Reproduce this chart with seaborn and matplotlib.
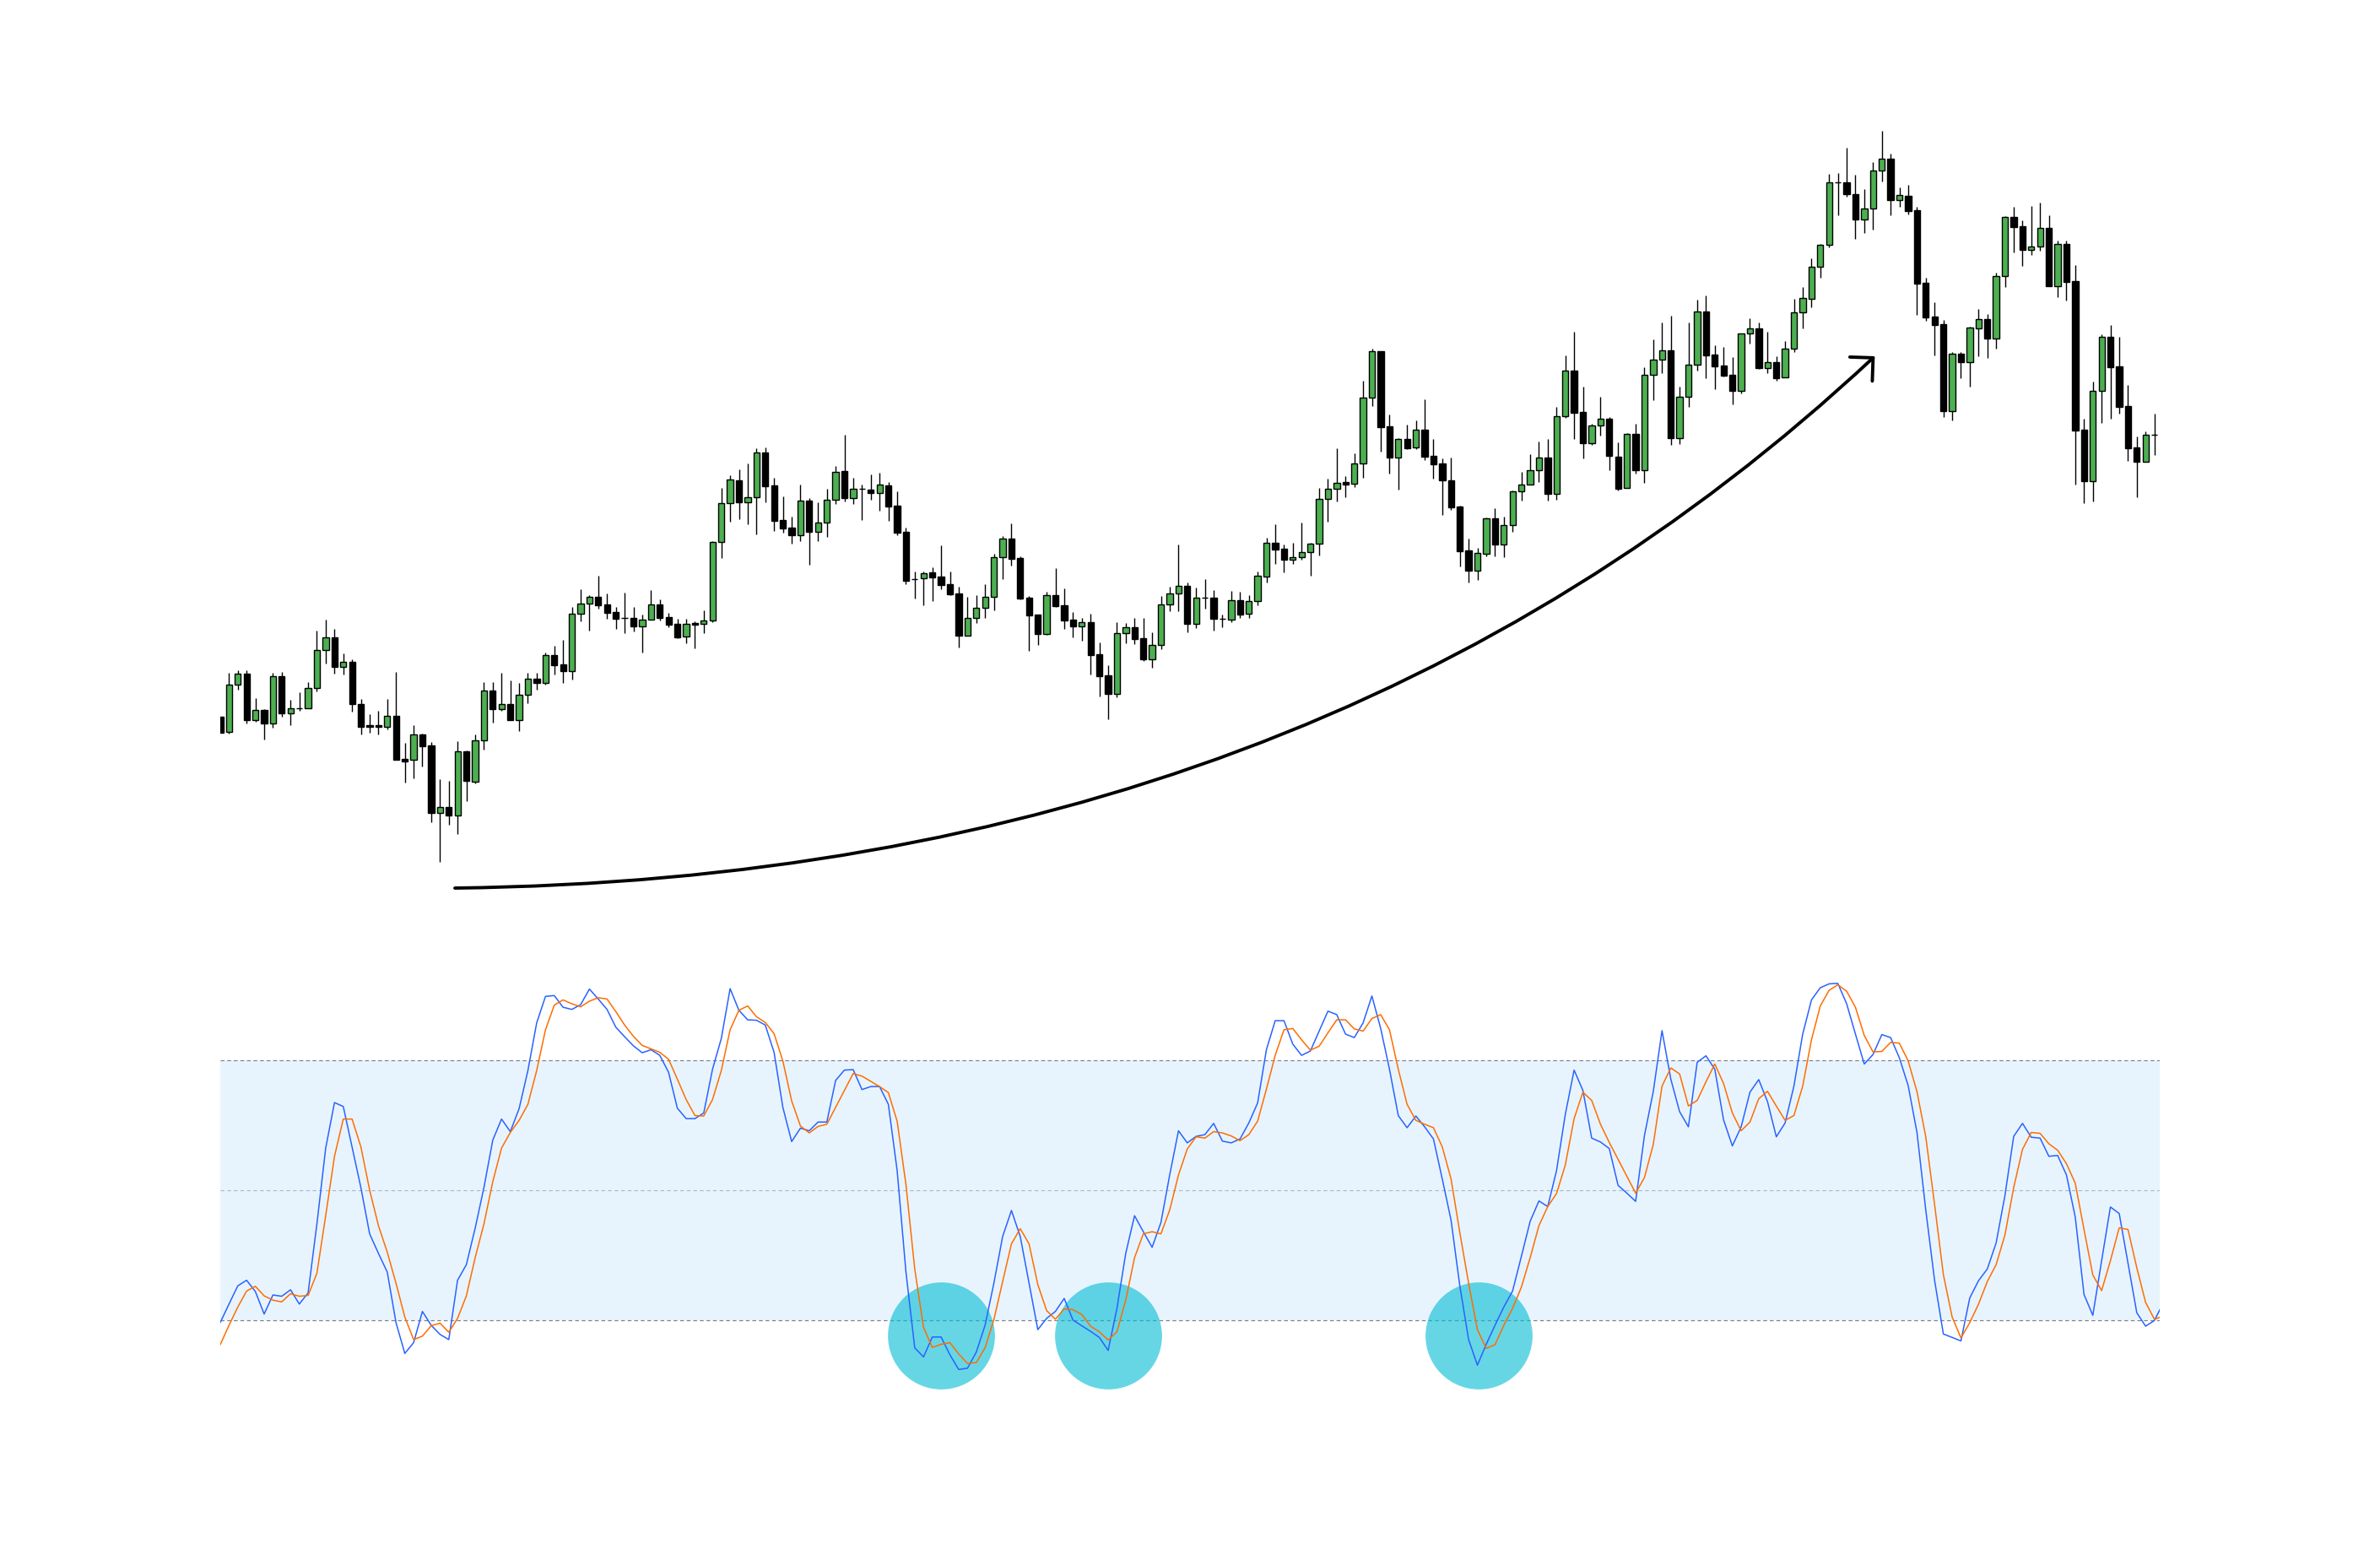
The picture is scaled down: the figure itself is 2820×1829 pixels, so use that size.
import numpy as np
import pandas as pd
import seaborn as sns
import matplotlib.pyplot as plt
from matplotlib.patches import FancyArrowPatch
from matplotlib.path import Path

# candle prices
opens = [251, 233, 289, 302, 247, 259, 243, 299, 255, 261,
         261, 285, 330, 345, 310, 316, 266, 241, 241, 239,
         252, 201, 200, 230, 217, 137, 144, 134, 210, 174,
         223, 282, 260, 266, 247, 277, 296, 291, 324, 313,
         305, 373, 385, 393, 384, 375, 368, 368, 358, 366,
         384, 369, 361, 346, 362, 361, 365, 458, 504, 531,
         505, 511, 564, 525, 484, 475, 466, 507, 470, 481,
         508, 542, 510, 521, 520, 516, 525, 501, 470, 414,
         415, 422, 417, 408, 397, 347, 368, 380, 393, 440,
         462, 439, 392, 372, 349, 395, 383, 366, 358, 363,
         325, 300, 278, 350, 357, 344, 319, 336, 384, 397,
         406, 361, 392, 392, 367, 366, 389, 373, 388, 417,
         457, 450, 437, 440, 446, 456, 509, 521, 529, 527,
         551, 629, 684, 595, 558, 580, 570, 591, 560, 551,
         531, 500, 448, 424, 444, 486, 455, 478, 518, 526,
         543, 558, 515, 607, 661, 612, 575, 596, 604, 559,
         522, 586, 543, 656, 674, 685, 581, 630, 668, 731,
         680, 667, 656, 637, 705, 711, 664, 671, 653, 687,
         730, 746, 784, 810, 884, 884, 870, 840, 853, 898,
         912, 863, 868, 851, 765, 725, 716, 613, 681, 671,
         711, 722, 699, 773, 843, 832, 804, 808, 830, 761,
         811, 767, 591, 530, 637, 701, 666, 619, 570, 553,
         585]
highs = [251, 303, 306, 306, 273, 260, 303, 304, 271, 280,
         292, 353, 366, 355, 326, 319, 272, 254, 258, 272,
         304, 220, 241, 231, 221, 177, 175, 222, 211, 230,
         292, 292, 303, 294, 291, 303, 303, 327, 335, 342,
         381, 402, 395, 418, 397, 381, 398, 381, 372, 401,
         390, 374, 367, 367, 364, 377, 459, 522, 537, 544,
         551, 569, 570, 534, 512, 488, 526, 510, 505, 521,
         548, 585, 534, 526, 538, 540, 529, 518, 475, 423,
         423, 428, 454, 423, 405, 393, 395, 408, 444, 465,
         480, 441, 394, 372, 399, 427, 403, 375, 368, 373,
         339, 312, 363, 362, 368, 368, 351, 394, 405, 455,
         410, 404, 414, 401, 372, 400, 399, 395, 423, 463,
         479, 455, 457, 481, 457, 522, 533, 569, 536, 563,
         649, 687, 684, 609, 581, 597, 602, 627, 580, 557,
         558, 501, 462, 451, 487, 498, 488, 519, 541, 562,
         577, 580, 618, 679, 707, 642, 598, 630, 606, 576,
         587, 598, 665, 698, 718, 726, 642, 718, 745, 750,
         691, 689, 677, 705, 723, 718, 707, 678, 696, 746,
         760, 794, 811, 894, 895, 925, 893, 876, 908, 945,
         918, 878, 881, 855, 771, 742, 721, 683, 683, 713,
         734, 728, 777, 844, 855, 839, 856, 860, 845, 815,
         815, 786, 604, 648, 704, 715, 701, 644, 583, 589,
         610]
lows = [232, 231, 283, 243, 245, 224, 238, 251, 241, 258,
        261, 281, 314, 302, 301, 257, 230, 232, 230, 236,
        200, 173, 178, 192, 126, 79, 123, 112, 151, 172,
        212, 244, 258, 247, 234, 267, 283, 289, 301, 291,
        295, 364, 353, 379, 367, 355, 350, 352, 327, 366,
        365, 357, 344, 338, 332, 350, 363, 439, 482, 485,
        479, 467, 505, 471, 469, 456, 459, 431, 459, 464,
        503, 506, 503, 484, 508, 495, 483, 466, 408, 391,
        383, 388, 402, 395, 333, 347, 362, 368, 377, 414,
        430, 390, 329, 336, 348, 381, 355, 345, 341, 301,
        275, 248, 274, 338, 337, 317, 309, 331, 376, 376,
        351, 356, 379, 353, 357, 363, 368, 368, 383, 410,
        432, 422, 432, 437, 418, 442, 482, 506, 511, 523,
        534, 619, 565, 539, 520, 568, 568, 555, 533, 490,
        496, 429, 410, 413, 441, 441, 440, 470, 507, 526,
        529, 507, 508, 605, 580, 557, 573, 584, 543, 519,
        522, 539, 528, 626, 658, 573, 574, 618, 661, 652,
        639, 654, 621, 634, 693, 663, 658, 649, 653, 683,
        711, 736, 771, 807, 845, 867, 817, 824, 828, 885,
        845, 855, 846, 727, 720, 679, 606, 602, 652, 642,
        678, 676, 687, 760, 801, 785, 798, 803, 761, 748,
        744, 526, 504, 506, 599, 604, 610, 554, 511, 553,
        561]
closes = [232, 289, 302, 247, 259, 243, 299, 255, 261, 261,
          285, 330, 345, 310, 316, 266, 239, 239, 239, 252,
          200, 198, 230, 216, 137, 144, 134, 210, 175, 223,
          282, 260, 266, 247, 277, 296, 291, 324, 312, 305,
          373, 385, 393, 383, 374, 367, 368, 358, 366, 384,
          368, 360, 345, 361, 360, 365, 458, 504, 532, 505,
          511, 564, 524, 483, 474, 466, 507, 470, 481, 508,
          541, 510, 521, 521, 516, 526, 500, 469, 412, 414,
          421, 416, 407, 396, 347, 368, 380, 393, 440, 462,
          438, 391, 371, 349, 395, 382, 365, 358, 363, 324,
          299, 278, 350, 357, 343, 319, 336, 384, 397, 406,
          361, 392, 392, 367, 367, 389, 372, 388, 418, 457,
          449, 437, 440, 446, 456, 509, 521, 528, 526, 551,
          629, 684, 594, 558, 580, 569, 591, 559, 550, 531,
          499, 447, 424, 445, 486, 455, 478, 518, 526, 543,
          558, 515, 607, 661, 611, 575, 596, 604, 560, 521,
          586, 543, 656, 674, 685, 581, 630, 668, 731, 679,
          666, 655, 637, 705, 711, 664, 671, 652, 687, 730,
          747, 784, 810, 884, 884, 870, 840, 853, 898, 912,
          863, 869, 850, 764, 724, 715, 613, 681, 671, 712,
          722, 699, 773, 843, 831, 804, 808, 830, 761, 811,
          766, 590, 530, 637, 701, 665, 618, 569, 553, 585,
          585]

# stochastic oscillator: fast line (blue) and slow line (orange)
stoch_k = [19.5, 23.8, 28, 29.3, 26.7, 21.5, 25.9, 25.6, 27.1, 23.8,
           26.4, 42.3, 59.8, 70.3, 69.4, 60.1, 50.7, 40, 35.5, 31.2,
           19.5, 12.4, 14.9, 22.1, 18.9, 16.8, 15.6, 29.3, 32.9, 41.3,
           50.7, 61.6, 66.5, 63.6, 68.9, 77.7, 88.7, 94.8, 95, 92.3,
           91.8, 92.9, 96.5, 94.2, 91.8, 87.7, 85.5, 83.4, 81.8, 82.5,
           81.2, 77.3, 69, 66.6, 66.6, 67.9, 78, 85.1, 96.6, 91.6,
           89.4, 89.3, 88.2, 81.9, 69.2, 61.3, 64.4, 63.8, 65.8, 65.8,
           75.4, 77.8, 77.9, 73.3, 74, 74, 69.9, 54.6, 31.2, 13.7,
           11.6, 16.2, 16.2, 12.1, 8.7, 9, 12.7, 18.9, 28.6, 39.4,
           45.4, 39.4, 28.6, 17.9, 20.5, 22.1, 25.1, 20.1, 18.8, 17.5,
           16.1, 13.1, 22.8, 35.5, 44.2, 40.5, 36.9, 42.6, 53.6, 63.8,
           61, 62.5, 62.9, 65.5, 61.4, 61, 61.9, 65.6, 70.2, 82.5,
           89.2, 89.2, 83.8, 81.2, 82.2, 86.8, 91.4, 90.6, 86.1, 85.3,
           88.7, 94.9, 87.4, 78, 67.3, 64.5, 67.2, 64.7, 61.9, 52.7,
           43.2, 28, 15.6, 9.7, 14.5, 18.9, 23.1, 26.8, 34.8, 42.9,
           47.6, 46.3, 54.6, 67.6, 77.8, 73.1, 62.1, 61.2, 59.7, 51.2,
           49.4, 47.5, 62.7, 72.8, 86.9, 75.7, 68.2, 64.7, 79.6, 81.1,
           78, 66.3, 60.3, 64.7, 72.7, 75.6, 70.5, 62.4, 65.6, 74.1,
           86.1, 94, 96.8, 97.7, 97.8, 93.1, 86.1, 79.2, 81.4, 86,
           85.3, 80.6, 74.2, 63.4, 45.5, 29.3, 16.9, 16.1, 15.3, 25.2,
           29.2, 31.9, 37.9, 48.8, 62.5, 65.5, 62.3, 62.1, 57.9, 58.1,
           53.6, 43.9, 26, 21.2, 33.8, 46.2, 44.7, 33.2, 21.8, 18.7,
           20, 24]
stoch_d = [14.4, 18.9, 23.1, 26.8, 27.9, 25.7, 24.7, 24.3, 26.2, 25.6,
           25.8, 30.9, 44.2, 57.9, 66.5, 66.5, 60.1, 50.1, 41.9, 35.8,
           28.6, 20.8, 15.6, 16.4, 18.8, 19.4, 17.3, 20.5, 25.7, 34.5,
           42.3, 52, 59.8, 63.4, 66.2, 69.9, 77.7, 87.1, 92.8, 94,
           93.1, 92.4, 93.7, 94.5, 94.2, 91.3, 88.2, 85.6, 83.5, 82.7,
           81.9, 80.3, 75.7, 71, 67.3, 67.2, 71, 77.7, 87.1, 91.6,
           92.6, 90.1, 88.8, 86.2, 79.9, 70.7, 64.9, 63.3, 64.8, 65.3,
           69.2, 73.1, 77, 76.4, 75.2, 74, 72.6, 66, 51.4, 31.9,
           18.4, 13.8, 14.5, 14.9, 12.3, 10.1, 10.3, 13.7, 20.2, 29,
           37.7, 41.2, 37.7, 28.3, 22.3, 20.3, 22.7, 22.5, 21.4, 18.7,
           17.4, 15.5, 17.4, 24.7, 34.5, 40, 40.5, 40, 45.5, 53.6,
           59.6, 62.4, 62.1, 63.6, 63.3, 62.6, 61.5, 62.9, 66, 73.4,
           81.2, 87.1, 87.4, 84.8, 82.4, 83.3, 86.4, 89.4, 89.4, 87.3,
           86.8, 89.7, 90.6, 87.1, 78, 69.9, 66.2, 65.3, 64.5, 60.1,
           52.7, 40.3, 28.6, 17.9, 13.6, 14.4, 18.9, 22.8, 27.7, 34.5,
           41.9, 46.3, 49.3, 55.9, 66.6, 72.7, 70.8, 65.3, 61.1, 57.2,
           53.3, 49.4, 53, 60.6, 74.1, 78.3, 76.9, 69.5, 70.8, 75.1,
           79.2, 74.7, 67.9, 63.8, 65.8, 71.2, 72.9, 69.5, 66.2, 67.3,
           74.1, 84.8, 92.6, 96.2, 97.5, 96, 92.3, 85.8, 82, 82.1,
           84.2, 84, 79.9, 72.8, 62.4, 46.8, 30.6, 20.8, 16, 19.5,
           23.8, 29, 32.9, 39.7, 50.7, 59.5, 63.4, 63.2, 60.8, 59.3,
           56.2, 51.7, 41, 30.5, 26.9, 33.8, 41.4, 41, 32.2, 24.2,
           20.3, 21]

# bars where the oversold dips are circled
oversold_bars = [82, 101, 143.1]
circle_level = 16.6

sns.set_theme(style="white")

candles = pd.DataFrame({'open': opens, 'high': highs, 'low': lows, 'close': closes})
candles['bar'] = np.arange(len(candles))
stoch = pd.DataFrame({'bar': np.arange(len(stoch_k)), 'k': stoch_k, 'd': stoch_d})

W, H = 2820, 1829
fig = plt.figure(figsize=(W / 100, H / 100), dpi=100)
ax = fig.add_axes([260.9 / W, 729 / H, 2298 / W, 1000 / H])
osc = fig.add_axes([260.9 / W, 129 / H, 2298 / W, 560 / H])

# candles
up = candles['close'] >= candles['open']
ax.vlines(candles['bar'], candles['low'], candles['high'], color='black', lw=1.0, zorder=1)
ax.bar(candles['bar'], candles['close'] - candles['open'], bottom=candles['open'],
       width=0.7, color=np.where(up, '#4CAF50', 'black'), edgecolor='black',
       linewidth=1.0, zorder=2)

# curved trend arrow under the candles
curve = Path([(26.7, 48), (124.7, 60), (188.2, 678)],
             [Path.MOVETO, Path.CURVE3, Path.CURVE3])
ax.add_patch(FancyArrowPatch(path=curve, arrowstyle='->,head_length=0.7,head_width=0.7',
                             mutation_scale=20, lw=2.8, color='black', zorder=3))

ax.set_xlim(0, 220.6)
ax.set_ylim(0, 1000)
ax.axis('off')

# stochastic panel
osc.axhspan(20, 80, color='#2196F3', alpha=0.1, lw=0, zorder=0)
for lvl, a in ((80, 1.0), (50, 0.5), (20, 1.0)):
    osc.axhline(lvl, color='#787B86', alpha=a, lw=0.8, ls=(0, (4, 3)), zorder=1)
osc.scatter(oversold_bars, [circle_level] * len(oversold_bars), s=8330,
            color='#00BCD4', alpha=0.6, lw=0, zorder=2)
sns.lineplot(data=stoch, x='bar', y='k', color='#2962FF', lw=1.1,
             estimator=None, ax=osc, zorder=3)
sns.lineplot(data=stoch, x='bar', y='d', color='#FF6D00', lw=1.1,
             estimator=None, ax=osc, zorder=3)
osc.set_xlim(0, 220.6)
osc.set_ylim(-6.44, 102.66)
osc.axis('off')

fig.savefig('out.png', dpi=100)
